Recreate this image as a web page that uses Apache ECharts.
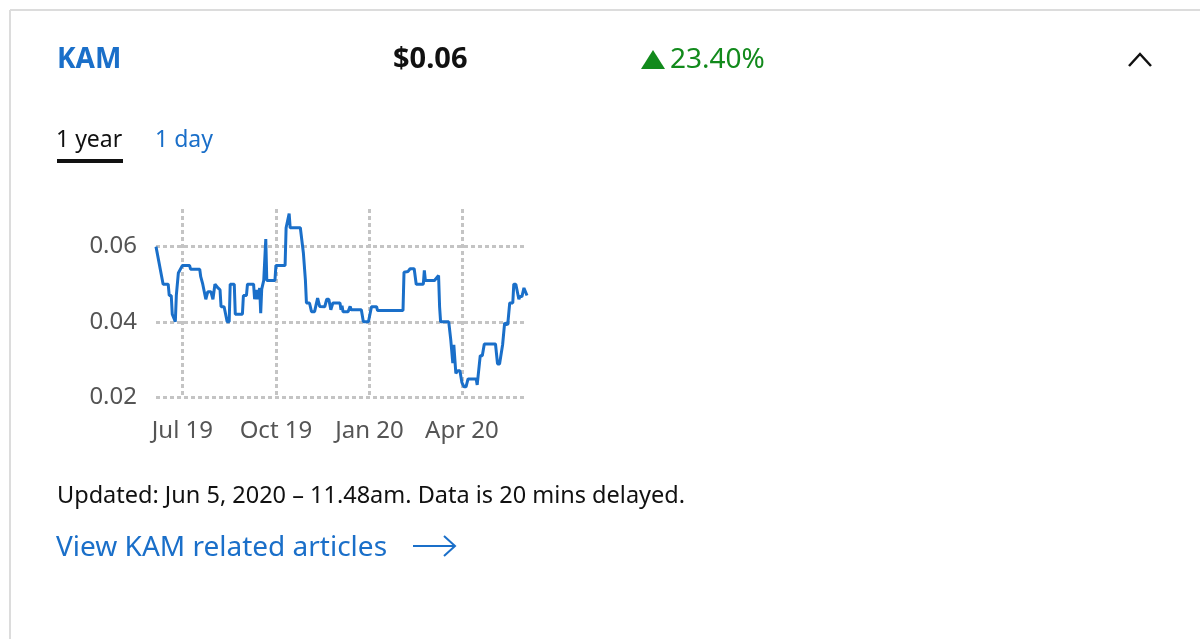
<!DOCTYPE html>
<html>
<head>
<meta charset="utf-8">
<script src="https://cdn.jsdelivr.net/npm/echarts@6/dist/echarts.min.js"></script>
<style>
  html, body { margin: 0; padding: 0; background: #fff; }
  #main { width: 1200px; height: 639px; }
</style>
</head>
<body>
<div id="main"></div>
<script>
// KAM 1 year price line
var dates = [
  '2019-06-05','2019-06-12','2019-06-17','2019-06-18','2019-06-20','2019-06-21','2019-06-24','2019-06-25',
  '2019-06-27','2019-07-01','2019-07-08','2019-07-09','2019-07-18','2019-07-19','2019-07-21','2019-07-24',
  '2019-07-26','2019-07-29','2019-07-31','2019-08-02','2019-08-05','2019-08-07','2019-08-08','2019-08-11',
  '2019-08-14','2019-08-16','2019-08-17','2019-08-21','2019-08-22','2019-08-29','2019-08-30','2019-09-02',
  '2019-09-03','2019-09-09','2019-09-10','2019-09-12','2019-09-13','2019-09-15','2019-09-16','2019-09-17',
  '2019-09-19','2019-09-21','2019-09-22','2019-09-30','2019-10-01','2019-10-10','2019-10-11','2019-10-14',
  '2019-10-15','2019-10-25','2019-10-28','2019-10-29','2019-10-30','2019-10-31','2019-11-03','2019-11-05',
  '2019-11-08','2019-11-11','2019-11-13','2019-11-18','2019-11-20','2019-11-22','2019-11-24','2019-11-26',
  '2019-12-03','2019-12-04','2019-12-05','2019-12-06','2019-12-11','2019-12-13','2019-12-14','2019-12-24',
  '2019-12-26','2019-12-31','2020-01-03','2020-01-08','2020-01-09','2020-01-31','2020-02-03','2020-02-04',
  '2020-02-08','2020-02-10','2020-02-14','2020-02-16','2020-02-23','2020-02-24','2020-02-25','2020-03-05',
  '2020-03-09','2020-03-10','2020-03-11','2020-03-19','2020-03-21','2020-03-23','2020-03-24','2020-03-26',
  '2020-03-28','2020-03-30','2020-04-01','2020-04-03','2020-04-05','2020-04-07','2020-04-15','2020-04-16',
  '2020-04-19','2020-04-21','2020-04-23','2020-05-04','2020-05-06','2020-05-08','2020-05-11','2020-05-13',
  '2020-05-16','2020-05-18','2020-05-21','2020-05-22','2020-05-24','2020-05-27','2020-05-28','2020-05-30',
  '2020-06-01','2020-06-04'
];
var prices = [
  0.060,0.050,0.050,0.047,0.047,0.042,0.040,0.047,
  0.053,0.055,0.055,0.054,0.054,0.052,0.050,0.046,
  0.048,0.048,0.046,0.050,0.049,0.0485,0.044,0.044,
  0.040,0.040,0.050,0.050,0.042,0.042,0.047,0.047,
  0.050,0.050,0.046,0.0485,0.046,0.049,0.0423,0.0487,
  0.051,0.062,0.051,0.051,0.055,0.055,0.065,0.0688,
  0.065,0.065,0.0583,0.058,0.051,0.045,0.045,0.0427,
  0.0427,0.0463,0.0441,0.044,0.046,0.046,0.0432,0.045,
  0.045,0.0432,0.0443,0.0427,0.0427,0.0441,0.0432,0.0432,
  0.040,0.040,0.044,0.044,0.043,0.043,0.043,0.0532,
  0.0534,0.0541,0.0541,0.050,0.050,0.0537,0.051,0.051,
  0.0523,0.044,0.040,0.040,0.0352,0.029,0.0339,0.0263,
  0.027,0.027,0.0238,0.0227,0.0227,0.0248,0.0248,0.0232,
  0.031,0.031,0.0341,0.0341,0.0288,0.0288,0.0339,0.0397,
  0.0392,0.045,0.045,0.050,0.050,0.046,0.0467,0.0467,
  0.049,0.047
];
var monthNames = ['Jan','Feb','Mar','Apr','May','Jun','Jul','Aug','Sep','Oct','Nov','Dec'];

var blue = '#1a6fc9';
var green = '#128a1c';
var gridGrey = '#c4c4c4';

var seriesData = [];
for (var i = 0; i < dates.length; i++) {
  seriesData.push([dates[i], prices[i]]);
}

// text helper for the card
function label(x, y, text, color, font) {
  return {
    type: 'text', x: x, y: y,
    style: { text: text, fill: color, font: font, align: 'left', verticalAlign: 'middle' }
  };
}

var chart = echarts.init(document.getElementById('main'));
var option = {
  backgroundColor: '#fff',
  animation: false,
  grid: { left: 156, right: 673, top: 209, bottom: 242 },
  xAxis: {
    type: 'time',
    min: dates[0],
    max: dates[dates.length - 1],
    splitNumber: 4,
    minInterval: 80 * 24 * 3600 * 1000,
    axisLine: { show: false },
    axisTick: { show: false },
    axisLabel: {
      color: '#555',
      fontSize: 24,
      fontFamily: 'Noto Sans',
      margin: 22,
      hideOverlap: false,
      formatter: function (val) {
        var d = new Date(val);
        return monthNames[d.getMonth()] + ' ' + String(d.getFullYear()).slice(2);
      }
    },
    splitLine: {
      show: true,
      showMinLine: false,
      showMaxLine: false,
      lineStyle: { color: gridGrey, width: 3, type: [4, 3] }
    }
  },
  yAxis: {
    type: 'value',
    min: 0.02,
    max: 0.07,
    interval: 0.02,
    axisLine: { show: false },
    axisTick: { show: false },
    axisLabel: {
      color: '#555',
      fontSize: 24,
      fontFamily: 'Noto Sans',
      margin: 19,
      showMaxLabel: false,
      formatter: function (v) { return v.toFixed(2); }
    },
    splitLine: {
      show: true,
      showMaxLine: false,
      lineStyle: { color: gridGrey, width: 3, type: [4, 3] }
    }
  },
  series: [{
    type: 'line',
    data: seriesData,
    showSymbol: false,
    lineStyle: { color: blue, width: 3 },
    z: 5
  }],
  graphic: [
    // card border
    { type: 'line', shape: { x1: 10, y1: 10, x2: 1200, y2: 10 }, style: { stroke: '#dcdcdc', lineWidth: 2 } },
    { type: 'line', shape: { x1: 10, y1: 10, x2: 10, y2: 639 }, style: { stroke: '#dcdcdc', lineWidth: 2 } },
    // header
    label(57, 60, 'KAM', blue, 'bold 28px "Noto Sans"'),
    label(393, 60, '$0.06', '#111', 'bold 29px "Noto Sans"'),
    { type: 'polygon', shape: { points: [[641, 69], [653, 50], [665, 69]] }, style: { fill: green } },
    label(670, 60, '23.40%', green, '28px "Noto Sans"'),
    { type: 'polyline', shape: { points: [[1129, 66], [1140, 54], [1151, 66]] }, style: { stroke: '#111', lineWidth: 2.5, fill: null } },
    // tabs
    label(56, 140, '1 year', '#111', '23px "Noto Sans"'),
    { type: 'rect', shape: { x: 57, y: 159, width: 66, height: 4 }, style: { fill: '#111' } },
    label(155, 140, '1 day', blue, '23px "Noto Sans"'),
    // footer
    label(57, 496, 'Updated: Jun 5, 2020 \u2013 11.48am. Data is 20 mins delayed.', '#111', '23.5px "Noto Sans"'),
    label(56, 548, 'View KAM related articles', blue, '28px "Noto Sans"'),
    { type: 'line', shape: { x1: 413, y1: 546, x2: 454, y2: 546 }, style: { stroke: blue, lineWidth: 2 } },
    { type: 'polyline', shape: { points: [[444, 536], [455, 546], [444, 556]] }, style: { stroke: blue, lineWidth: 2, fill: null } }
  ]
};
chart.setOption(option);
</script>
</body>
</html>
